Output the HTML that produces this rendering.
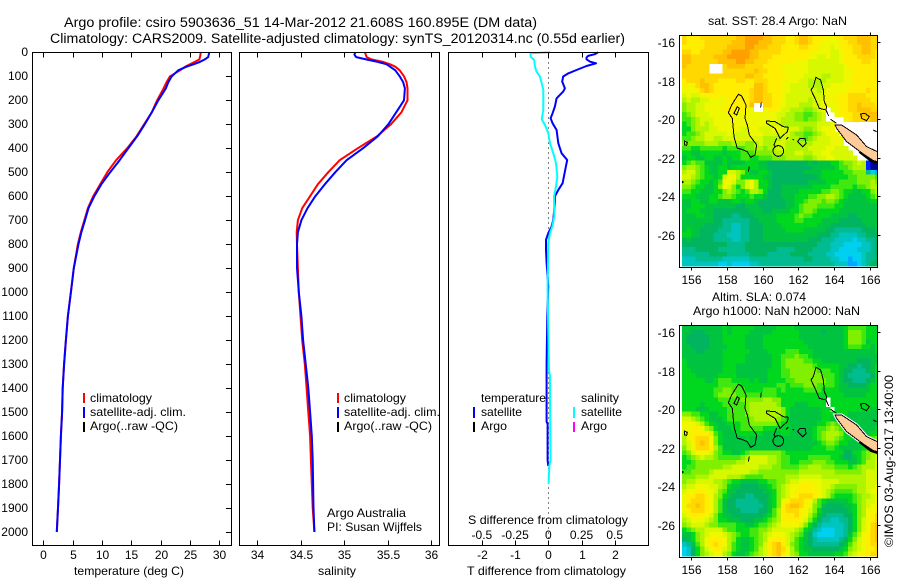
<!DOCTYPE html>
<html lang="en">
<head>
<meta charset="utf-8">
<title>Argo profile</title>
<style>
html,body{margin:0;padding:0;background:#fff;}
svg{display:block;font-family:"Liberation Sans",Arial,sans-serif;}
text{fill:#000;font-size:12px;}
</style>
</head>
<body>
<svg id="chart" xmlns="http://www.w3.org/2000/svg" width="900" height="580" viewBox="0 0 900 580">
<rect width="900" height="580" fill="#fff"/>
<defs>
<clipPath id="clip-sst"><rect x="682" y="35" width="195.3" height="232"/></clipPath>
<clipPath id="clip-sla"><rect x="682" y="325" width="195.3" height="232"/></clipPath>
</defs>
<text x="64" y="27" textLength="473" lengthAdjust="spacingAndGlyphs" style="font-size:13.5px">Argo profile: csiro 5903636_51 14-Mar-2012 21.608S 160.895E (DM data)</text>
<text x="50" y="43" textLength="575" lengthAdjust="spacingAndGlyphs" style="font-size:13.5px">Climatology: CARS2009. Satellite-adjusted climatology: synTS_20120314.nc (0.55d earlier)</text>

<g id="layer-maps"></g>
<g id="layer-profiles"></g>

<text x="74" y="575" textLength="110" lengthAdjust="spacingAndGlyphs">temperature (deg C)</text>
<text x="318" y="575" textLength="38" lengthAdjust="spacingAndGlyphs">salinity</text>
<text x="467" y="575" textLength="159" lengthAdjust="spacingAndGlyphs">T difference from climatology</text>
<text x="468" y="524" textLength="160" lengthAdjust="spacingAndGlyphs">S difference from climatology</text>

<g>
<rect x="83" y="393" width="2" height="10" fill="#f00"/>
<rect x="83" y="407" width="2" height="11" fill="#00f"/>
<rect x="83" y="422" width="2" height="10" fill="#000"/>
<text x="90" y="402" textLength="62" lengthAdjust="spacingAndGlyphs">climatology</text>
<text x="90" y="416" textLength="96" lengthAdjust="spacingAndGlyphs">satellite-adj. clim.</text>
<text x="90" y="430" textLength="88" lengthAdjust="spacingAndGlyphs">Argo(..raw -QC)</text>
</g>
<g>
<rect x="337" y="393" width="2" height="10" fill="#f00"/>
<rect x="337" y="407" width="2" height="11" fill="#00f"/>
<rect x="337" y="422" width="2" height="10" fill="#000"/>
<text x="344" y="402" textLength="62" lengthAdjust="spacingAndGlyphs">climatology</text>
<text x="344" y="416" textLength="96" lengthAdjust="spacingAndGlyphs">satellite-adj. clim.</text>
<text x="344" y="430" textLength="88" lengthAdjust="spacingAndGlyphs">Argo(..raw -QC)</text>
<text x="327" y="517" textLength="79" lengthAdjust="spacingAndGlyphs">Argo Australia</text>
<text x="327" y="531" textLength="95" lengthAdjust="spacingAndGlyphs">PI: Susan Wijffels</text>
</g>
<g>
<text x="481" y="402" textLength="65" lengthAdjust="spacingAndGlyphs">temperature</text>
<text x="581" y="402" textLength="38" lengthAdjust="spacingAndGlyphs">salinity</text>
<rect x="473" y="407" width="2" height="11" fill="#00f"/>
<rect x="473" y="422" width="2" height="10" fill="#000"/>
<rect x="573" y="407" width="2" height="11" fill="#0ff"/>
<rect x="573" y="422" width="2" height="10" fill="#f0f"/>
<text x="481" y="416" textLength="41" lengthAdjust="spacingAndGlyphs">satellite</text>
<text x="481" y="430" textLength="26" lengthAdjust="spacingAndGlyphs">Argo</text>
<text x="581" y="416" textLength="41" lengthAdjust="spacingAndGlyphs">satellite</text>
<text x="581" y="430" textLength="26" lengthAdjust="spacingAndGlyphs">Argo</text>
</g>

<text x="708" y="25" textLength="139" lengthAdjust="spacingAndGlyphs">sat. SST: 28.4 Argo: NaN</text>
<text x="712" y="301" textLength="94" lengthAdjust="spacingAndGlyphs">Altim. SLA: 0.074</text>
<text x="693" y="315" textLength="167" lengthAdjust="spacingAndGlyphs">Argo h1000: NaN h2000: NaN</text>
<text transform="translate(893,547) rotate(-90)" textLength="172" lengthAdjust="spacingAndGlyphs">©IMOS 03-Aug-2017 13:40:00</text>
</svg>

<script>
// ---- profile data ----
const depths = [0,10,20,30,40,50,60,75,100,125,150,200,250,300,350,400,450,500,550,600,650,700,750,800,900,1000,1100,1200,1300,1400,1500,1600,1700,1800,1900,2000];
const tempClim = [26.8,26.8,26.7,26.6,25.8,25,24.2,23.3,21.6,21,20.5,19.4,18.5,17.2,15.9,14.3,12.4,10.9,9.7,8.5,7.6,7,6.4,5.9,5.2,4.7,4.2,3.85,3.55,3.3,3.2,3,2.85,2.7,2.5,2.3];
const tempSat = [28.3,28.2,28.1,27.5,26.7,25.6,24.4,23,21.9,21.3,20.9,19.6,18.5,17.3,16,14.5,13,11.4,9.9,8.7,7.7,7.1,6.5,6,5.2,4.7,4.2,3.85,3.55,3.3,3.2,3,2.85,2.7,2.5,2.3];
const salClim = [35.24,35.25,35.26,35.32,35.45,35.53,35.59,35.64,35.69,35.72,35.73,35.73,35.66,35.54,35.38,35.16,34.95,34.82,34.7,34.61,34.52,34.47,34.456,34.46,34.47,34.48,34.5,34.52,34.55,34.57,34.59,34.61,34.62,34.63,34.64,34.66];
const salSat = [35.13,35.12,35.14,35.26,35.39,35.49,35.53,35.59,35.64,35.68,35.7,35.69,35.6,35.51,35.39,35.22,35.03,34.9,34.78,34.67,34.58,34.51,34.47,34.46,34.46,34.48,34.51,34.53,34.56,34.59,34.61,34.63,34.64,34.645,34.65,34.66];

const tDiffDepths = [0,8,15,22,29,39,46,57,74,88,101,122,150,164,192,226,254,275,296,324,379,421,449,476,546,574,601,622,699,726,754,782,824,879,976,1100,1300,1540,1550,1700,1725];
const tDiff = [1.5,1.4,1.2,1.15,1.15,1.26,1.44,1.15,0.85,0.6,0.45,0.42,0.5,0.45,0.25,0.2,0.13,0.07,0.13,0.25,0.3,0.4,0.57,0.53,0.43,0.3,0.2,0.2,0.15,0.1,0,-0.07,-0.07,-0.05,0,-0.03,-0.05,-0.05,-0.02,-0.02,0];
const sDiffDepths = [0,4,18,32,60,81,101,129,157,240,279,303,337,379,421,462,518,560,601,685,726,754,796,976,1100,1325,1350,1450,1700,1725,1800];
const sDiff = [0.0125,-0.133,-0.133,-0.106,-0.1,-0.088,-0.063,-0.05,-0.038,-0.038,-0.05,-0.025,0,0.0125,0.038,0.058,0.068,0.058,0.043,0.045,0.03,0.0125,0,-0.005,-0.0025,0.005,0.0125,0.0125,0.0175,0.0075,0.0025];

// ---- tick labels ----
const depthTicks = [0,100,200,300,400,500,600,700,800,900,1000,1100,1200,1300,1400,1500,1600,1700,1800,1900,2000];
const tempTicks = [0,5,10,15,20,25,30];
const salTicks = [34,34.5,35,35.5,36];
const tDiffTicks = [-2,-1,0,1,2];
const sDiffTicks = [-0.5,-0.25,0,0.25,0.5];
const lonTicks = [156,158,160,162,164,166];
const latTicks = [16,18,20,22,24,26];

// ---- gridded maps: each letter is a colour-scale level (A lowest .. R highest), W = no data ----
const sstRows = [
"POOOPPPPPPP PQQRRRRQQPP POOPQQPOOON NOOPPPQQQPP",
"POOOOPPPPPP QQQRRRQQQPP POOPQQPOONN NNOOPPQQQPP",
"OOOOOPPPPPQ QQQRRQQQPPP OOOOPPOONNN MNOOOPPQQPP",
"PPOOPPPPPQQ RRRRQQPPPPP OOOOOOONNNN MMNOOPPQQPO",
"QQPPPPPQQQR RRRRQQPPPOO OOOOOONNMMN MMNOOOPPPPO",
"QQPPPPPPQQQ QRRQQPPPOOO OOONNNMMMMM MMNOOOOPPOO",
"QPPPPPWWWPQ QQQPPPPOOOO NNNNNNMMMMM MMMNOOOOOOO",
"PPPPPPWWWPP PPPPPQPPOOO ONNNNNMMMMM MMMNNOOOOOO",
"PPPPPPPPPPP PPPQQPPOOOO ONNNNMMMMLL MMMNNOOOOOO",
"OPPPQPPPOOO OPPOOPPPOOO NNNNMMLLLLM MMMNNOOOOOO",
"ONOPQQPOOOO OOOOOQQPOOO NNMMMMLLLMM NNNNNOOOOON",
"NNNOPQPOOOO OOOOPQQPOOO NNMMMMMMLMN NNNNOOOOPOO",
"MNMMNOOONOO OOOOPQQPPOO NMMMMMMMMMN NNOOPPPPOON",
"LMLLMMNNNNO OOOOPQQPPOO NMMMMMLMMNN NOOOPPPPPOO",
"KLLMMNNNNNO OOOOQWWPPOO NMMMLLLMMNN NNOOPPQPPPO",
"KLLMMNNNNOO OOONNWWNOON MMLLLKKLMNW NNOOPPQQQPP",
"JKLMMMNNNNO ONNNNNNNNNM MLLKKJJKLMW WNOOOPPQQQQ",
"JJKLMMMNNNN NNNNNNNNNNM LLLKKJKKLMW WWWNOPPPPQQ",
"IJKLMLMNNNN NNNNNNNNMMM LLLLLLLLMMM NWWWWWWWWWW",
"IIKLLLMMNNN NNMMNNMMMNN MMMMLKKLMNN NWWWWWWWWWW",
"IJJKLMMMMMN MMMMNNNMMMM MMLKKJJKLMN NNWWWWWWWWW",
"JJKLLMMLLMM MMMMMMMLLLL MMLLKJKLMMM NNNWWWWWWWW",
"KKKKKLLLKKK LLLKKLMLLLM MLLLLLLMMMM NNNWWWWWWWW",
"JJIIJJJJJIJ JJJKKLLKLLM MLLLLLMMMMN NMMMWWWWWWW",
"IIHHIIIIIHI IIJJJKKKKLL LLLMMLLMMNN MMMMMWWWWWW",
"HIIHHIIHHIH IIJJIIJJJKK KLLLLKKLMMN NMMMMMWWWWW",
"IJKJJHHHHIH HHHIIIHHGGG GGGGGGHGHHH IIJKKLMLBAA",
"KLLKJIHHIIH IIIIIIHHGGG GGGGGGGHHHH HIJJKLLLBAA",
"LMMKJIHHIIM MLKIHHIIHGG GGGGGHHHHII IIIJJKKKFDC",
"MMLKJIIHIMN NLIIIIIHHGG GGGGGGGGHII IIIIJJKKKKJ",
"LLKJIIHIJNN MKKMNLIIHGG GGGGGGHHHHI IIJJJJKKKLK",
"KKJIIHHIKNM KIKMNLIIHGG HHHHHHHIIII JJJJJIJJKLL",
"JJIIHHHIIKL KJIJLLKIGGG HHHHIIIIIJJ KKJIIHHIIKL",
"IIIHHHIIJKK JIIIJIIHGGG HHHIIIJJKKL LKJIHHHHIJK",
"HHIIHHIIHHH IIHIIHGGGGG GHHIIJKKKJK KJIHHHHHHII",
"HHIIIHHHHHH HGGHHHGGGGG GHHIJKKKJJJ JIIHHHHHHHH",
"HIIIHHHGGGG GGGGHHHGGHH HHIIJKKJIII IIHHHHHHHHH",
"HHHIIHHGGGG FFGGGHHHHHI IIIJKJJIIII HHHHGGHHHHH",
"HHHHHHHGGFF FFFFGGHHHHI IIIJJIIIIHH HHGGGGGHHHH",
"HHHHHGGGGFF EEFFGGGHHHH IIIIIIIIHHH GGGGGGGGHHH",
"HIHHGGGGFFF EEFFGGGHHHH HIIIIHHHHHG GFFFFFFGGGH",
"IIHHGGGFFFE EEFFGGGHHHH HHHHHHHHGGG FFEEEEFFGGG",
"GHGGGGGFFFF EEFFGGGHHHH HHHHHHGGGFF FEEEEDEEFFG",
"GGGGGGGGGGF FFFGGGGGGGG GGGGGGGGFFF EEEDDDDEEFG",
"FFFGGGGGFFF FFFGGGGGGGF FFFGGGGFFFF EEDDDDEEEFG",
"FFFFFFGGGGF FFFFGGGGFFF FFGGGGFFFFE EDDDDDDEFFG",
"EEEFFFFFFEE EEEEFFFFFFF FFFFFGGFFFF EEDDCDDEFFG",
"EEEEEEEEDDE DDDDEEFFFFF FFFFFFFFFFF FEEECCDEFGG"
];
const slaRows = [
"HHHHHHHHHIH IIIIIHHHHHI IIIHHHHHHHH HHHIJJJJIII",
"HHGGGHHHHIH IIIIHHHHHII IIIIHHHHHGH HHHIKKKJIII",
"HGGGGGHHHII IIIHHHHIIII IIIIHHHHHHH HHHIKKKJIII",
"HGGGGGHHHII IIIHHHHIIII IIIIIHHHHHH HHHIKKKJHII",
"HHGGGGHHHHI IIIHHHHIIII IIIIIIHHHHH HHHIJJJIIHI",
"HHHGGHHHHII IIIIHHHHIII IJJJIIIHHHH HHHHHHHHHHI",
"HHHHHHHHHII IIIHHHHHHII JJJKJJIHHHH HHHHHHHHHHH",
"IHHHHHHHHII IIIHHHHHHII JKKKKJJIIHH HHHHHHGGGHH",
"IHHHHHHHHII IHHHHHHHHII JKKKKKKJIII IIHHGGFGGHI",
"IIHHHHHHHII IHHHHHHHIII JJKKKKKKJJJ IIHGGFFFGHI",
"IIIHHHHHIII IHHHHHHHIII JJKKKKKKKJJ JIHGFFFFFGI",
"IIIIIHHIJJJ IIIIHIHHIII IJJKKKKKKKJ JIHGGFFFGHI",
"IIIIIIIIJJJ JJIIIIIIIIJ JIJJJKKKJJJ JIHHGGGGHII",
"IIIIIIIJJKK JJJIIIIJJJI JIIIIJJJJII IIHHHHHHHII",
"IIIIIIIJKKK KJJJJJJJJJI IIIIIIIIIII IIIHHHHHIII",
"IIIIIIIIJJJ JJKKKKKLLKK IIIIIIIIIIW IIIIIIIIIII",
"IIIIHIIIIJJ JJJKLLLLLLK IIIHHHIIIIW IIIIIIIIIII",
"IIIHHHIIIIJ JJJKLLLLLLL KIHHHHHHHII WIIIIIIIIHH",
"KKJJIIHHIIJ JJJKLLLLLLL KIHHHHHHHII IIIIHHHHHHH",
"MMLKJIHHHIJ JJJJKLLLLLK JIHHHHHHHII HHHHHHHHHHH",
"NNNMLJIHHHI IIJJKKKKKKJ IIHHHHHHIIJ KJIHHHHHHHH",
"NNOONLKIHHH IIJJJJJIIII IIHHHHHIJJK LKJIHHHHHHI",
"MNOOOOMJIHH HIIIIIIHHHH IIHHHHHIJKL LLKIHHHHHII",
"LNOPPPNKIHH HHHIHHHHHHH HHHHHHHIJKL LKJIIHHHIJK",
"LMOPQPNKIHH HHHHHHHHHHH HHHHHHHHIJK KJIIHHHHIKL",
"KMNPPPOLJHH HHHHHHHHHHH HHHHHHHIIIJ JIHHHHHIIKL",
"JKMNNNMKJII HHIJKKKKKKK JIIIIIIIIII IIIGGIIJKLL",
"IJKLMLLKJJJ JJKLMMMMLLK JJIIIIJJJJJ IIHGGHIJKLM",
"IIJKKKKKKKK KLLMMMMMLLK JJIIJJJKKKJ JIIIHHIJLLM",
"IJJKKKKKKLL MMMMMMLLLKK JJJJKKLLLKK KJJJIJKLLLM",
"JJKKKKLMMMM MMMMLLKKKKK KKKKLLLLLLL LKKKKKKLMMM",
"KKKLLLMMMML LLKJJJJKKKK KLLLMMMMMLL LLLLLLLLMMM",
"KLLMMMMLLKJ IIHHHHIIJJK KLMMNNNNNMM MMLLLLLLMMM",
"LMMNNNMMLKI HHGGGGHHIJK LMNNOOONNMM LKKKKKLLMMN",
"MNNOONNMKJH HGGGGGGHHIK LMNOOOOONML KJJJJKLLMNN",
"NOOPPONLKIH GGGFFGGGHIK LMNOPPPONML JIIIIJKLLMN",
"NOPPPONLJHG GFFFFFGGHIK NOPPPONLJIH HHHHIJKLMMN",
"NPPQPONLJHG GFFFFFFGHIK OPQQPONKJHG GGGHHIKLMNO",
"NOPPPONLJHG GGFFFFGGHJL OPPPONMKIGG GGGGHIKLNNO",
"MNOOONMKIHH GGGGGGGHIJL OOOPONLJHGF FFFGGIKLNOP",
"LMNNNMLKIIH HHGGGHHIJKL OOOONMKIGFF EEFFGIKMNOP",
"KLMMMLKKJJJ JIIHHIJJKLM NNNNMKIGFEE EEEFGIKMNPQ",
"IJKLLMMMMKJ JIIIJJKKLMM MMMLKIHFEDD DEEFGIKMNPQ",
"HHIKLMNNNML KJIIJJKLMNN NMLKJHGEDDD DEEFHJLNOPQ",
"GHIKLNOOONL KIHHIJKLNOO OMLJIHGFEEE EEFGIKMNOPQ",
"EFHJLNOPONL JIHHIJKMOPQ OMKJIHGFFFF FFGHJLMNOPP",
"DEGIKMNOOML JIHHIJLMOPQ PNLJIHHGGGG GGHIKLMNOOP",
"DEGIKLMNNLK IHHIJKLMOPQ ONLKIIHHHHH HIIJLMNOOPP"
];

// ---- colour scale for map levels ----
const levelColors = {A:"#000090",B:"#0020ff",C:"#00a8ff",D:"#00d0f0",E:"#00c4c0",F:"#00bc90",G:"#00b460",H:"#00c440",I:"#00d820",J:"#40e810",K:"#80f000",L:"#b0f400",M:"#d8f800",N:"#f0f800",O:"#ffee00",P:"#ffd800",Q:"#ffc000",R:"#ffa000"};

// ---- axis functions ----
const yDepth = d => 52.3 + d * 0.2398;
const xTemp = v => 43.3 + v * 5.867;
const xSal = v => 257 + (v - 34) * 87;
const xTDiff = v => 548.3 + v * 33.2;
const xSDiff = v => 548.3 + v * 132.8;
const xLon = v => 690.7 + (v - 156) * 17.96;
const yLatSst = v => 42.3 + (v - 16) * 19.27;
const yLatSla = v => 332.3 + (v - 16) * 19.27;

const NS = "http://www.w3.org/2000/svg";
const profiles = document.getElementById("layer-profiles");
const maps = document.getElementById("layer-maps");

function make(tag, parent, name, attrs) {
  const el = document.createElementNS(NS, tag);
  
  
  for (const k in attrs) el.setAttribute(k, attrs[k]);
  parent.appendChild(el);
  return el;
}
function label(parent, name, str, x, y, anchor) {
  const el = make("text", parent, name, {x: x, y: y, "text-anchor": anchor || "middle"});
  el.textContent = str;
  return el;
}
function tick(parent, name, x1, y1, x2, y2) {
  make("line", parent, name, {x1: x1, y1: y1, x2: x2, y2: y2, stroke: "#000", "stroke-width": 1, "shape-rendering": "crispEdges"});
}
function frame(parent, name, x, y, w, h) {
  make("rect", parent, name, {x: x, y: y, width: w, height: h, fill: "none", stroke: "#000", "stroke-width": 1, "shape-rendering": "crispEdges"});
}
function profileLine(parent, name, xFn, ds, vs, color) {
  const pts = ds.map((d, i) => xFn(vs[i]).toFixed(1) + "," + yDepth(d).toFixed(1)).join(" ");
  make("polyline", parent, name, {points: pts, fill: "none", stroke: color, "stroke-width": 2, "stroke-linejoin": "round"});
}

const TOP = 52.5, BOTTOM = 545.5, H = BOTTOM - TOP;

// ---- temperature panel ----
const p1 = make("g", profiles, "temperature-panel", {});
profileLine(p1, "temperature-climatology-line", xTemp, depths, tempClim, "#f00");
profileLine(p1, "temperature-satellite-line", xTemp, depths, tempSat, "#00f");
frame(p1, "temperature-frame", 32.5, TOP, 199, H);
depthTicks.forEach(d => {
  const y = Math.round(yDepth(d)) + 0.5;
  tick(p1, "depth-tick", 226, y, 231.5, y);
  label(p1, "depth-tick-label", String(d), 28, y + 3.5, "end");
});
tempTicks.forEach(v => {
  const x = Math.round(xTemp(v)) + 0.5;
  tick(p1, "temperature-tick-top", x, TOP, x, TOP + 5);
  tick(p1, "temperature-tick-bottom", x, BOTTOM - 5, x, BOTTOM);
  label(p1, "temperature-tick-label", String(v), x, 559);
});

// ---- salinity panel ----
const p2 = make("g", profiles, "salinity-panel", {});
profileLine(p2, "salinity-climatology-line", xSal, depths, salClim, "#f00");
profileLine(p2, "salinity-satellite-line", xSal, depths, salSat, "#00f");
frame(p2, "salinity-frame", 239.5, TOP, 200, H);
salTicks.forEach(v => {
  const x = Math.round(xSal(v)) + 0.5;
  tick(p2, "salinity-tick-top", x, TOP, x, TOP + 5);
  tick(p2, "salinity-tick-bottom", x, BOTTOM - 5, x, BOTTOM);
  label(p2, "salinity-tick-label", String(v), x, 559);
});

// ---- difference panel ----
const p3 = make("g", profiles, "difference-panel", {});
make("line", p3, "zero-difference-line", {x1: 548.5, y1: TOP, x2: 548.5, y2: BOTTOM, stroke: "#000", "stroke-width": 1, "stroke-dasharray": "1 4", "shape-rendering": "crispEdges"});
profileLine(p3, "temperature-difference-line", xTDiff, tDiffDepths, tDiff, "#00f");
profileLine(p3, "salinity-difference-line", xSDiff, sDiffDepths, sDiff, "#0ff");
frame(p3, "difference-frame", 448.5, TOP, 200, H);
tDiffTicks.forEach(v => {
  const x = Math.round(xTDiff(v)) + 0.5;
  tick(p3, "t-difference-tick-top", x, TOP, x, TOP + 5);
  tick(p3, "t-difference-tick-bottom", x, BOTTOM - 5, x, BOTTOM);
  label(p3, "t-difference-tick-label", String(v), x, 559);
});
sDiffTicks.forEach(v => {
  label(p3, "s-difference-tick-label", String(v), xSDiff(v), 539);
});

// ---- maps ----
const coastLines = [
  "M235,253 L245,258 L258,285 L255,325 L262,345 L268,375 L290,405 L285,435 L272,442 L262,425 L245,418 L232,415 L222,380 L217,325 L205,308 L215,285 Z",
  "M232,290 L222,310 L230,315 L238,295 Z",
  "M320,333 L345,335 L370,350 L385,352 L382,365 L360,385 L345,355 L320,340 Z",
  "M350,385 L342,405 L345,410",
  "M339,423 a16,16 0 1,0 32,0 a16,16 0 1,0 -32,0 Z",
  "M420,385 L435,385 L438,400 L428,410 L413,395 Z",
  "M378,388 L385,382", "M398,387 L401,390",
  "M265,485 L268,470", "M302,292 L304,277",
  "M73,393 L82,397 L80,406 L73,405 Z", "M62,513 L70,516 L64,520 Z",
  "M468,202 L482,210 L490,240 L493,275 L500,290 L498,300 L478,295 L465,265 L453,240 L460,230 Z",
  "M602,312 L615,310 L628,320 L620,332 L605,325 Z",
  "M640,360 L650,365", "M498,300 L506,318", "M512,328 L530,340"
];
const landShape = "M525,345 L545,345 L590,375 L620,410 L652,425 L652,455 L640,452 L600,425 L560,395 L530,355 Z";

function drawMap(prefix, rows, dy, clip, yLat) {
  const g = make("g", maps, prefix + "-map", {});
  make("rect", g, prefix + "-map-background", {x: 679.5, y: 35 + dy, width: 198, height: 232, fill: "#fff"});
  const cells = make("g", g, prefix + "-cells", {"clip-path": "url(#" + clip + ")"});
  const cw = 0.25 * 17.96, ch = 0.25 * 19.27, y0 = 35 + dy;
  rows.forEach((row, r) => {
    const vals = row.replace(/ /g, "");
    for (let c = 0; c < vals.length; c++) {
      const level = vals[c];
      if (level === "W") continue;
      const rc = document.createElementNS(NS, "rect");
      
      
      rc.setAttribute("x", (xLon(155.52) + c * cw).toFixed(2));
      rc.setAttribute("y", (y0 + r * ch).toFixed(2));
      rc.setAttribute("width", (cw + 0.3).toFixed(2));
      rc.setAttribute("height", (ch + 0.3).toFixed(2));
      rc.setAttribute("fill", levelColors[level]);
      rc.setAttribute("shape-rendering", "crispEdges");
      cells.appendChild(rc);
    }
  });
  const coast = make("g", g, prefix + "-coastline", {"clip-path": "url(#" + clip + ")"});
  const inner = make("g", coast, prefix + "-coastline-shapes", {transform: "translate(660," + (10 + dy) + ") scale(0.3333)"});
  if (dy > 0) make("path", inner, prefix + "-land-halo", {d: landShape, fill: "#fff", stroke: "#fff", "stroke-width": 9});
  make("path", inner, prefix + "-land", {d: landShape, fill: "#ffcc99", stroke: "#000", "stroke-width": 3, "shape-rendering": "crispEdges"});
  make("path", inner, prefix + "-land-south-edge", {d: "M600,425 L640,452 L652,456 L652,462 L632,456 L596,428 Z", fill: "#000"});
  coastLines.forEach(d => {
    make("path", inner, prefix + "-coast-outline", {d: d, fill: "none", stroke: "#000", "stroke-width": 3, "shape-rendering": "crispEdges"});
  });
  frame(g, prefix + "-frame", 679.5, 35.5 + dy, 198, 232);
  lonTicks.forEach(v => {
    const x = Math.round(xLon(v)) + 0.5;
    tick(g, prefix + "-lon-tick-top", x, 32.5 + dy, x, 35.5 + dy);
    tick(g, prefix + "-lon-tick-bottom", x, 267.5 + dy, x, 270.5 + dy);
    label(g, prefix + "-lon-label", String(v), x, 284 + dy);
  });
  latTicks.forEach(v => {
    const y = Math.round(yLat(v)) + 0.5;
    tick(g, prefix + "-lat-tick-right", 877.5, y, 880.5, y);
    label(g, prefix + "-lat-label", "-" + v, 675, y + 4.5, "end");
  });
}
drawMap("sst", sstRows, 0, "clip-sst", yLatSst);
drawMap("sla", slaRows, 290, "clip-sla", yLatSla);
</script>
</body>
</html>
